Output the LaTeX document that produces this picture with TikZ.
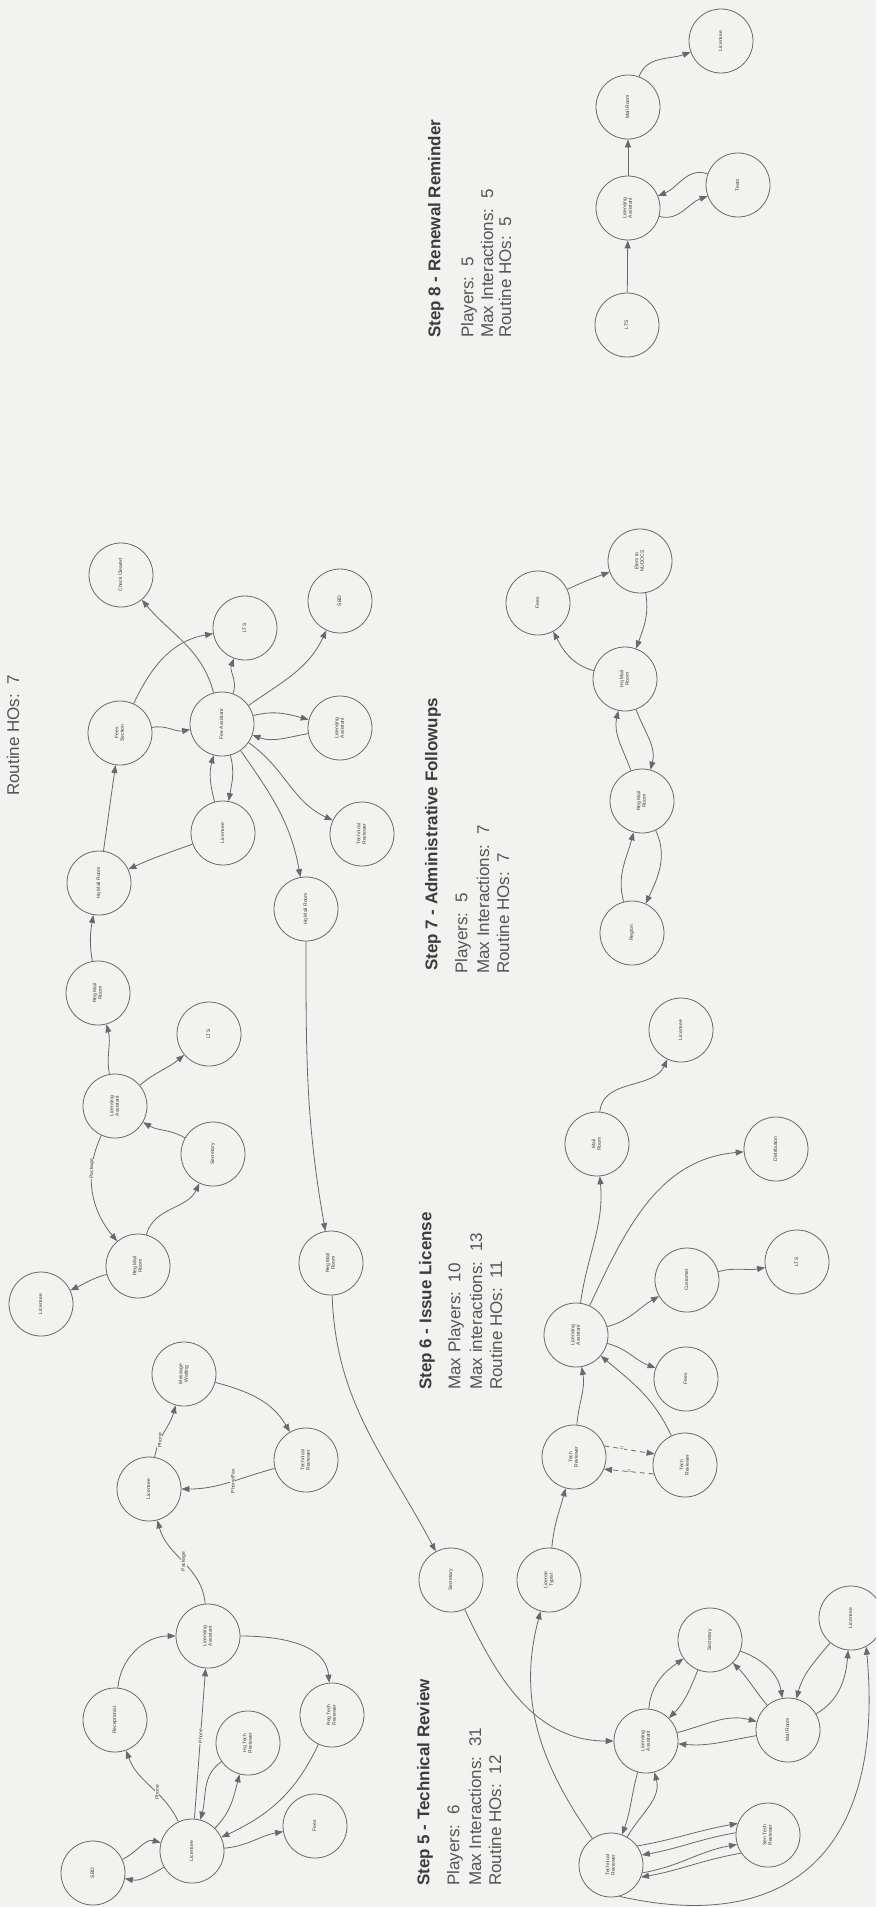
\documentclass[tikz,border=0pt]{standalone}
\usepackage{fontspec}
\setmainfont{Liberation Sans}
\usetikzlibrary{arrows.meta}
\definecolor{paper}{RGB}{242,242,240}
\definecolor{ink}{RGB}{105,105,105}
\definecolor{txt}{RGB}{60,60,60}
\definecolor{infotxt}{RGB}{85,85,85}
% upright label inside a circle, turned to read bottom-to-top
\newcommand{\rl}[1]{\rotatebox{90}{\begin{tabular}{@{}c@{}}#1\end{tabular}}}

\begin{document}
\begin{tikzpicture}[x=1pt,y=1pt,
  actor/.style={circle,draw=ink,line width=0.8pt,minimum size=64pt,inner sep=0pt,
    font=\fontsize{5}{5.6}\selectfont,text=txt},
  flow/.style={draw=ink,line width=0.8pt,-{Triangle[length=8pt,width=6pt]}},
  tag/.style={fill=paper,inner sep=0.6pt,font=\fontsize{5}{6}\selectfont,text=txt,rotate=90},
  brk/.style={fill=paper,inner sep=0.4pt,font=\fontsize{7}{7}\selectfont,text=ink},
  heading/.style={anchor=west,rotate=90,inner sep=0pt,font=\fontsize{17}{20}\selectfont\bfseries,text=txt},
  info/.style={anchor=west,rotate=90,inner sep=0pt,font=\fontsize{17}{20}\selectfont,text=infotxt}]

\fill[paper] (0,0) rectangle (876,-1907);
\useasboundingbox (0,0) rectangle (876,-1907);
\clip (0,0) rectangle (876,-1907);

% ---------- Step 8 - Renewal Reminder ----------
\node[actor] (s8lic) at (721,-41) {\rl{Licensee}};
\node[actor] (s8mail) at (628,-107) {\rl{Mail Room}};
\node[actor] (s8la) at (628,-208) {\rl{Licensing\\Assistant}};
\node[actor] (s8team) at (738,-185) {\rl{Team}};
\node[actor] (s8lts) at (627,-325) {\rl{LTS}};

\draw[flow] (s8lts) -- (s8la);
\draw[flow] (s8la) -- (s8mail);
\draw[flow] (s8mail) to[out=70,in=200] (s8lic);
\draw[flow] (s8la) to[out=-15,in=200] (s8team);
\draw[flow] (s8team) to[out=160,in=22] (s8la);

\node[heading] (h8) at (436,-338) {Step 8 - Renewal Reminder};
\node[info] (p8) at (469,-338) {Players:\ \ 5};
\node[info] (m8) at (487,-338) {Max Interactions:\ \ 5};
\node[info] (r8) at (505,-338) {Routine HOs:\ \ 5};

% ---------- Step 7 - Administrative Followups ----------
\node[actor] (s7fees) at (538,-603) {\rl{Fees}};
\node[actor] (s7nudocs) at (640,-561) {\rl{Elem to\\NUDOCS}};
\node[actor] (s7hq) at (625,-679) {\rl{Hq Mail\\Room}};
\node[actor] (s7reg) at (642,-801) {\rl{Reg Mail\\Room}};
\node[actor] (s7region) at (632,-933) {\rl{Region}};

\draw[flow] (s7region) to[out=105,in=255] (s7reg);
\draw[flow] (s7reg) to[out=-65,in=65] (s7region);
\draw[flow] (s7reg) to[out=110,in=258] (s7hq);
\draw[flow] (s7hq) to[out=-70,in=75] (s7reg);
\draw[flow] (s7hq) to[out=165,in=-62] (s7fees);
\draw[flow] (s7fees) to[out=25,in=200] (s7nudocs);
\draw[flow] (s7nudocs) to[out=-80,in=70] (s7hq);

\node[heading] (h7) at (433,-971) {Step 7 - Administrative Followups};
\node[info] (p7) at (463,-974) {Players:\ \ 5};
\node[info] (m7) at (483,-974) {Max Interactions:\ \ 7};
\node[info] (r7) at (503,-974) {Routine HOs:\ \ 7};

% ---------- fee processing ----------
\node[info] (r4) at (13,-796) {Routine HOs:\ \ 7};

\node[actor] (fcheck) at (121,-575) {\rl{Check Cleared}};
\node[actor] (flts) at (245,-628) {\rl{LTS}};
\node[actor] (fsbd) at (340,-601) {\rl{SBD}};
\node[actor] (fsect) at (120,-733) {\rl{Fees\\Section}};
\node[actor] (fasst) at (222,-724) {\rl{Fee Assistant}};
\node[actor] (fla) at (340,-728) {\rl{Licensing\\Assistant}};
\node[actor] (flic) at (223,-833) {\rl{Licensee}};
\node[actor] (ftr) at (362,-834) {\rl{Technical\\Reviewer}};
\node[actor] (fhqa) at (99,-883) {\rl{Hq Mail Room}};
\node[actor] (fhqb) at (306,-909) {\rl{Hq Mail Room}};

\draw[flow] (fhqa) -- (fsect);
\draw[flow] (flic) to[out=200,in=25] (fhqa);
\draw[flow] (fsect) to[out=10,in=190] (fasst);
\draw[flow] (fsect) to[out=65,in=190] (flts);
\draw[flow] (fasst) to[out=105,in=-50] (fcheck);
\draw[flow] (fasst) to[out=70,in=250] (flts);
\draw[flow] (fasst) to[out=35,in=245] (fsbd);
\draw[flow] (fasst) to[out=15,in=165] (fla);
\draw[flow] (fla) to[out=190,in=-20] (fasst);
\draw[flow] (fasst) to[out=-75,in=80] (flic);
\draw[flow] (flic) to[out=105,in=255] (fasst);
\draw[flow] (fasst) to[out=-35,in=155] (ftr);
\draw[flow] (fasst) to[out=-55,in=100] (fhqb);

% ---------- incoming mail ----------
\node[actor] (mrega) at (98,-993) {\rl{Reg Mail\\Room}};
\node[actor] (mlts) at (209,-1034) {\rl{LTS}};
\node[actor] (mla) at (115,-1106) {\rl{Licensing\\Assistant}};
\node[actor] (msec) at (213,-1154) {\rl{Secretary}};
\node[actor] (mregb) at (138,-1266) {\rl{Reg Mail\\Room}};
\node[actor] (mlic) at (41,-1304) {\rl{Licensee}};
\node[actor] (mregc) at (331,-1263) {\rl{Reg Mail\\Room}};

\draw[flow] (mrega) to[out=100,in=260] (fhqa);
\draw[flow] (mla) to[out=100,in=285] (mrega);
\draw[flow] (mla) to[out=40,in=220] (mlts);
\draw[flow] (msec) to[out=150,in=-30] (mla);
\draw[flow] (mla) to[out=245,in=130] node[tag,pos=0.3] (lpk1) {Package} (mregb);
\draw[flow] (mregb) to[out=75,in=245] (msec);
\draw[flow] (mregb) to[out=195,in=25] (mlic);
\draw[flow] (fhqb) to[out=-90,in=100] (mregc);

% ---------- phone contacts ----------
\node[actor] (pmsg) at (184,-1374) {\rl{Message\\Waiting}};
\node[actor] (plic) at (149,-1489) {\rl{Licensee}};
\node[actor] (ptr) at (306,-1460) {\rl{Technical\\Reviewer}};

\draw[flow] (plic) to[out=80,in=255] node[tag,pos=0.3] (lph1) {Phone} (pmsg);
\draw[flow] (pmsg) to[out=-15,in=120] (ptr);
\draw[flow] (ptr) to[out=195,in=0] node[tag,pos=0.45] (lpf) {Phone/Fax} (plic);

% ---------- Step 5 - Technical Review ----------
\node[actor] (tsbd) at (93,-1873) {\rl{SBD}};
\node[actor] (tlic) at (192,-1851) {\rl{Licensee}};
\node[actor] (tfees) at (315,-1826) {\rl{Fees}};
\node[actor] (trec) at (115,-1720) {\rl{Receptionist}};
\node[actor] (tla) at (208,-1636) {\rl{Licensing\\Assistant}};
\node[actor] (thq) at (248,-1743) {\rl{Hq Tech\\Reviewer}};
\node[actor] (treg) at (332,-1715) {\rl{Reg Tech\\Reviewer}};

\draw[flow] (tsbd) to[out=25,in=165] (tlic);
\draw[flow] (tlic) to[out=210,in=-10] (tsbd);
\draw[flow] (tlic) to[out=115,in=290] node[tag,pos=0.4] (lph2) {Phone} (trec);
\draw[flow] (trec) to[out=85,in=180] (tla);
\draw[flow] (tlic) -- node[tag,pos=0.55] (lph3) {Phone} (tla);
\draw[flow] (thq) to[out=215,in=75] (tlic);
\draw[flow] (tlic) to[out=45,in=255] (thq);
\draw[flow] (tla) to[out=0,in=95] (treg);
\draw[flow] (treg) to[out=245,in=25] (tlic);
\draw[flow] (tlic) to[out=5,in=190] (tfees);
\draw[flow] (tla) to[out=95,in=285] node[tag,pos=0.5] (lpk2) {Package} (plic);

\node[heading] (h5) at (425,-1886) {Step 5 - Technical Review};
\node[info] (p5) at (455,-1886) {Players:\ \ 6};
\node[info] (m5) at (475,-1886) {Max Interactions:\ \ 31};
\node[info] (r5) at (495,-1886) {Routine HOs:\ \ 12};

% ---------- Step 6 - Issue License ----------
\node[actor] (ilic) at (681,-1030) {\rl{Licensee}};
\node[actor] (imail) at (597,-1144) {\rl{Mail\\Room}};
\node[actor] (idist) at (776,-1149) {\rl{Distribution}};
\node[actor] (ilts) at (797,-1262) {\rl{LTS}};
\node[actor] (icust) at (687,-1280) {\rl{Customer}};
\node[actor] (ila) at (576,-1335) {\rl{Licensing\\Assistant}};
\node[actor] (ifees) at (686,-1379) {\rl{Fees}};
\node[actor] (itra) at (574,-1457) {\rl{Tech\\Reviewer}};
\node[actor] (itrb) at (685,-1465) {\rl{Tech\\Reviewer}};
\node[actor] (ityp) at (549,-1580) {\rl{License\\Typist}};
\node[actor] (isec) at (451,-1580) {\rl{Secretary}};

\draw[flow] (mregc) to[out=-88,in=118] (isec);
\draw[flow] (ityp) to[out=85,in=255] (itra);
\draw[flow] (itra) to[out=85,in=280] (ila);
\draw[flow,dash pattern=on 5pt off 4pt] (itra.20) -- node[brk,pos=0.35] (bk1) {=} (itrb.160);
\draw[flow,dash pattern=on 5pt off 4pt] (itrb.196) -- node[brk,pos=0.5] (bk2) {=} (itra.-22);
\draw[flow] (itrb) to[out=115,in=-40] (ila);
\draw[flow] (ila) to[out=-15,in=160] (ifees);
\draw[flow] (ila) to[out=15,in=210] (icust);
\draw[flow] (icust) to[out=15,in=190] (ilts);
\draw[flow] (ila) to[out=82,in=275] (imail);
\draw[flow] (ila) to[out=65,in=185] (idist);
\draw[flow] (imail) to[out=85,in=245] (ilic);

\node[heading] (h6) at (427,-1390) {Step 6 - Issue License};
\node[info] (p6) at (456,-1390) {Max Players:\ \ 10};
\node[info] (m6) at (476,-1390) {Max interactions:\ \ 13};
\node[info] (r6) at (496,-1390) {Routine HOs:\ \ 11};

% ---------- review and typing loop ----------
\node[actor] (btr) at (611,-1865) {\rl{Technical\\Reviewer}};
\node[actor] (bla) at (646,-1741) {\rl{Licensing\\Assistant}};
\node[actor] (bsec) at (710,-1640) {\rl{Secretary}};
\node[actor] (bmail) at (788,-1730) {\rl{Mail Room}};
\node[actor] (blic) at (851,-1618) {\rl{Licensee}};
\node[actor] (bstr) at (768,-1835) {\rl{Sen Tech\\Reviewer}};

\draw[flow] (isec) to[out=-65,in=180] (bla);
\draw[flow] (btr) to[out=125,in=255] (ityp);
\draw[flow] (bla) to[out=255,in=70] (btr);
\draw[flow] (btr) to[out=60,in=285] (bla);
\draw[flow] (bla) to[out=85,in=215] (bsec);
\draw[flow] (bsec) to[out=248,in=45] (bla);
\draw[flow] (bla) to[out=15,in=165] (bmail);
\draw[flow] (bmail) to[out=190,in=-5] (bla);
\draw[flow] (bmail) to[out=130,in=-45] (bsec);
\draw[flow] (bsec) to[out=-20,in=100] (bmail);
\draw[flow] (blic) to[out=230,in=75] (bmail);
\draw[flow] (bmail) to[out=30,in=265] (blic);
\draw[flow] (btr.36) to[out=10,in=190] (bstr.159);
\draw[flow] (bstr.176) to[out=190,in=10] (btr.18);
\draw[flow] (btr.-14) to[out=10,in=190] (bstr.197);
\draw[flow] (bstr.214) to[out=190,in=10] (btr.-22);
\draw[flow] (btr.-75) .. controls (790,-1935) and (885,-1850) .. (blic.-62);

\end{tikzpicture}
\end{document}
